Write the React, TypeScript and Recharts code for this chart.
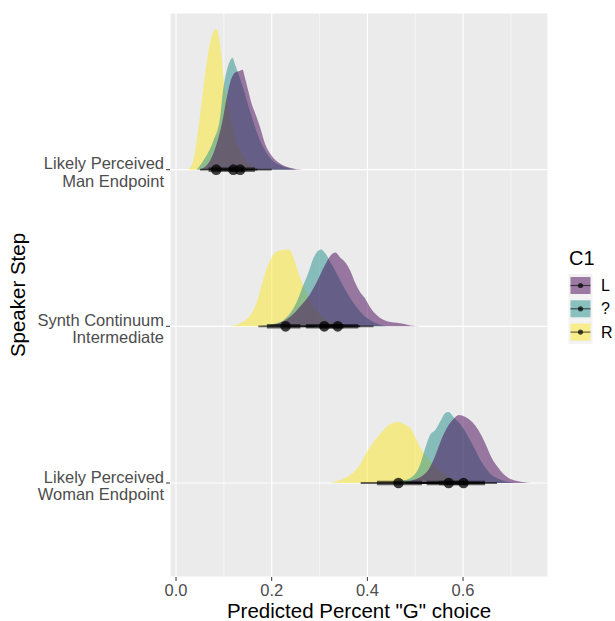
import {
  ComposedChart,
  Area,
  XAxis,
  YAxis,
  CartesianGrid,
  ReferenceLine,
  ReferenceDot,
} from "recharts";

// viridis(3): L, ?, R
const LEVELS = ["L", "?", "R"];
const COLORS: Record<string, string> = { L: "#440154", "?": "#21908C", R: "#FDE725" };

// y categories, bottom to top
const CATEGORIES = [
  ["Likely Perceived", "Woman Endpoint"],
  ["Synth Continuum", "Intermediate"],
  ["Likely Perceived", "Man Endpoint"],
];

const X_TICKS = [0, 0.2, 0.4, 0.6];
const X_MINOR = [0.1, 0.3, 0.5, 0.7];

// slab densities: [predicted proportion, scaled density]
const manR = [[0.026, 0], [0.036, 0.057], [0.047, 0.268], [0.054, 0.44], [0.061, 0.613], [0.068, 0.759], [0.075, 0.855], [0.084, 0.9], [0.091, 0.823], [0.096, 0.696], [0.1, 0.568], [0.105, 0.479], [0.115, 0.319], [0.125, 0.191], [0.14, 0.089], [0.155, 0.032], [0.175, 0]];
const manQ = [[0.043, 0], [0.057, 0.057], [0.078, 0.185], [0.092, 0.332], [0.099, 0.523], [0.106, 0.632], [0.113, 0.696], [0.118, 0.715], [0.123, 0.676], [0.128, 0.632], [0.14, 0.523], [0.155, 0.37], [0.17, 0.23], [0.185, 0.128], [0.2, 0.064], [0.22, 0.026], [0.25, 0]];
const manL = [[0.05, 0], [0.071, 0.057], [0.085, 0.166], [0.096, 0.294], [0.106, 0.459], [0.113, 0.555], [0.123, 0.619], [0.134, 0.632], [0.139, 0.638], [0.144, 0.587], [0.151, 0.504], [0.158, 0.421], [0.165, 0.364], [0.176, 0.268], [0.186, 0.166], [0.2, 0.089], [0.218, 0.038], [0.238, 0.013], [0.266, 0]];

const synR = [[0.113, 0], [0.134, 0.019], [0.155, 0.07], [0.169, 0.153], [0.179, 0.262], [0.19, 0.37], [0.2, 0.44], [0.211, 0.479], [0.221, 0.485], [0.235, 0.491], [0.242, 0.466], [0.251, 0.389], [0.259, 0.313], [0.266, 0.262], [0.277, 0.179], [0.29, 0.115], [0.31, 0.051], [0.33, 0.019], [0.36, 0]];
const synQ = [[0.17, 0], [0.2, 0.013], [0.224, 0.038], [0.252, 0.153], [0.266, 0.262], [0.277, 0.345], [0.287, 0.434], [0.296, 0.479], [0.303, 0.491], [0.312, 0.466], [0.321, 0.421], [0.33, 0.37], [0.35, 0.255], [0.37, 0.153], [0.39, 0.077], [0.41, 0.032], [0.44, 0]];
const synL = [[0.19, 0], [0.215, 0.019], [0.24, 0.064], [0.26, 0.128], [0.28, 0.204], [0.295, 0.287], [0.31, 0.383], [0.325, 0.459], [0.333, 0.472], [0.343, 0.44], [0.354, 0.408], [0.364, 0.357], [0.374, 0.281], [0.385, 0.217], [0.395, 0.179], [0.406, 0.121], [0.42, 0.07], [0.441, 0.032], [0.469, 0.019], [0.49, 0.006], [0.51, 0]];

const womR = [[0.322, 0], [0.343, 0.019], [0.364, 0.051], [0.381, 0.102], [0.399, 0.198], [0.416, 0.274], [0.434, 0.338], [0.448, 0.377], [0.465, 0.389], [0.479, 0.37], [0.49, 0.351], [0.5, 0.294], [0.51, 0.23], [0.521, 0.179], [0.535, 0.128], [0.55, 0.083], [0.57, 0.038], [0.6, 0.013], [0.63, 0]];
const womQ = [[0.44, 0], [0.47, 0.013], [0.49, 0.032], [0.51, 0.115], [0.521, 0.223], [0.531, 0.306], [0.542, 0.338], [0.554, 0.402], [0.563, 0.447], [0.57, 0.453], [0.58, 0.421], [0.6, 0.351], [0.62, 0.243], [0.64, 0.128], [0.66, 0.051], [0.68, 0.019], [0.71, 0]];
const womL = [[0.46, 0], [0.49, 0.013], [0.524, 0.07], [0.54, 0.16], [0.556, 0.287], [0.57, 0.37], [0.58, 0.408], [0.591, 0.434], [0.605, 0.421], [0.619, 0.389], [0.632, 0.338], [0.646, 0.255], [0.66, 0.16], [0.674, 0.096], [0.692, 0.038], [0.713, 0.013], [0.741, 0]];

// point intervals: [median, 66% lo, 66% hi, 95% lo, 95% hi]
const manInt = { R: [0.084, 0.068, 0.1, 0.05, 0.125], "?": [0.12, 0.1, 0.142, 0.078, 0.17], L: [0.134, 0.112, 0.165, 0.09, 0.2] };
const synInt = { R: [0.229, 0.19, 0.26, 0.172, 0.29], "?": [0.31, 0.272, 0.35, 0.24, 0.385], L: [0.338, 0.3, 0.381, 0.27, 0.413] };
const womInt = { R: [0.465, 0.42, 0.514, 0.386, 0.55], "?": [0.57, 0.524, 0.61, 0.48, 0.645], L: [0.601, 0.55, 0.646, 0.51, 0.671] };

const groups = [
  { pos: 1, slabs: { R: womR, "?": womQ, L: womL }, ints: womInt },
  { pos: 2, slabs: { R: synR, "?": synQ, L: synL }, ints: synInt },
  { pos: 3, slabs: { R: manR, "?": manQ, L: manL }, ints: manInt },
];

// draw R first, L on top
const DRAW_ORDER = ["R", "?", "L"];

const FONT = "'Liberation Sans', Arial, Helvetica, sans-serif";

function YTick(props: any) {
  const { x, y, payload } = props;
  const lines = CATEGORIES[payload.value - 1] || ["", ""];
  return (
    <text textAnchor="end" fill="#4D4D4D" fontSize={16.5}>
      <tspan x={x} y={y - 0.5}>{lines[0]}</tspan>
      <tspan x={x} y={y + 17}>{lines[1]}</tspan>
    </text>
  );
}

export default function App() {
  return (
    <div style={{ position: "absolute", left: 0, top: 0, width: 615, height: 621, background: "#fff", fontFamily: FONT }}>
      <ComposedChart width={615} height={621} margin={{ top: 13, right: 67, bottom: 0, left: 0 }}>
        <CartesianGrid fill="#EBEBEB" stroke="#fff" strokeWidth={1.1} />
        <CartesianGrid fill="none" stroke="#fff" strokeWidth={0.55} horizontal={false} verticalValues={X_MINOR} />
        <XAxis
          type="number"
          dataKey="x"
          domain={[-0.0126, 0.7776]}
          ticks={X_TICKS}
          allowDataOverflow
          height={44}
          axisLine={false}
          tickLine={{ stroke: "#333" }}
          tickSize={4}
          tickMargin={3.5}
          tick={{ fill: "#4D4D4D", fontSize: 16.5 }}
          tickFormatter={(v: number) => v.toFixed(1)}
        />
        <YAxis
          type="number"
          domain={[0.4, 4.0]}
          ticks={[1, 2, 3]}
          allowDataOverflow
          width={170}
          axisLine={false}
          tickLine={{ stroke: "#333" }}
          tickSize={4}
          tickMargin={2}
          tick={<YTick />}
        />
        {groups.flatMap((g) =>
          DRAW_ORDER.map((lv) => (
            <Area
              key={`${g.pos}-${lv}`}
              data={(g.slabs as any)[lv].map(([x, h]: number[]) => ({ x, r: [g.pos, g.pos + h] }))}
              dataKey="r"
              type="monotone"
              fill={COLORS[lv]}
              fillOpacity={0.5}
              stroke="none"
              isAnimationActive={false}
            />
          ))
        )}
        {groups.flatMap((g) =>
          DRAW_ORDER.flatMap((lv) => {
            const [, lo66, hi66, lo95, hi95] = (g.ints as any)[lv];
            return [
              <ReferenceLine
                key={`t-${g.pos}-${lv}`}
                segment={[{ x: lo95, y: g.pos }, { x: hi95, y: g.pos }]}
                stroke="#000"
                strokeOpacity={0.6}
                strokeWidth={1.8}
              />,
              <ReferenceLine
                key={`k-${g.pos}-${lv}`}
                segment={[{ x: lo66, y: g.pos }, { x: hi66, y: g.pos }]}
                stroke="#000"
                strokeOpacity={0.6}
                strokeWidth={4.5}
              />,
            ];
          })
        )}
        {groups.flatMap((g) =>
          DRAW_ORDER.map((lv) => (
            <ReferenceDot
              key={`p-${g.pos}-${lv}`}
              x={(g.ints as any)[lv][0]}
              y={g.pos}
              r={5.3}
              fill="#000"
              fillOpacity={0.75}
              stroke="none"
            />
          ))
        )}
      </ComposedChart>
      <svg width={615} height={621} style={{ position: "absolute", left: 0, top: 0, pointerEvents: "none" }}>
        <text x={359} y={617.5} textAnchor="middle" fontSize={20.5} fill="#000">
          Predicted Percent "G" choice
        </text>
        <text transform="translate(24.5,295) rotate(-90)" textAnchor="middle" fontSize={20.5} fill="#000">
          Speaker Step
        </text>
        <text x={569} y={265} fontSize={20} fill="#000">C1</text>
        {LEVELS.map((lv, i) => {
          const cy = 285.5 + i * 23.3;
          return (
            <g key={lv}>
              <rect x={568.5} y={cy - 11.6} width={24} height={23.3} fill="#F2F2F2" />
              <rect x={570.5} y={cy - 8.5} width={20} height={17} fill={COLORS[lv]} fillOpacity={0.5} />
              <line x1={570.5} x2={590.5} y1={cy} y2={cy} stroke="#000" strokeOpacity={0.6} strokeWidth={1.2} />
              <circle cx={580.5} cy={cy} r={2.6} fill="#000" fillOpacity={0.7} />
              <text x={601} y={cy + 5.5} fontSize={16} fill="#000">{lv}</text>
            </g>
          );
        })}
      </svg>
    </div>
  );
}
